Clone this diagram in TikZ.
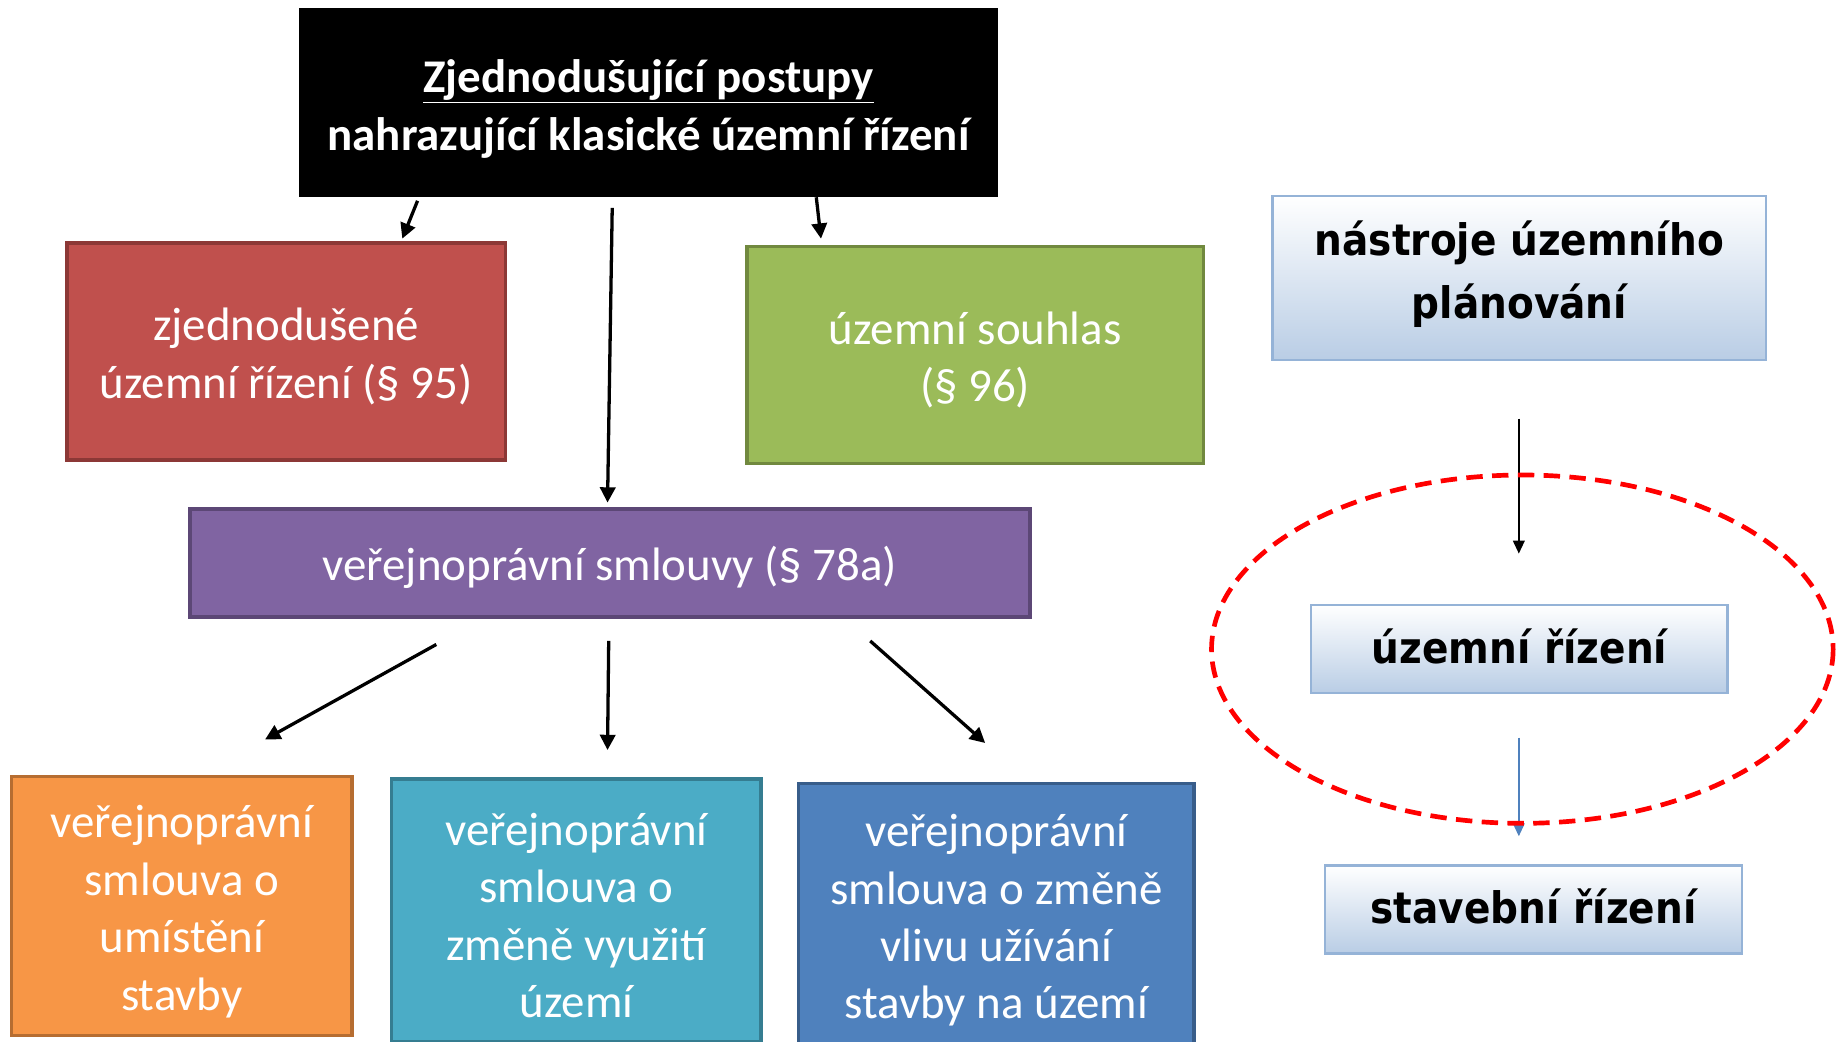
\documentclass[tikz,border=0pt]{standalone}
\usepackage{fontspec}
\setmainfont{Carlito}
\newfontfamily\rfont[FakeStretch=0.9]{DejaVu Sans}
\usepackage{tikz}
\usetikzlibrary{calc}
\usetikzlibrary{arrows.meta}
\usepackage{xcolor}
\definecolor{C0}{HTML}{C0504D}
\definecolor{C0d}{HTML}{8C3836}
\definecolor{C1}{HTML}{9BBB59}
\definecolor{C1d}{HTML}{71893F}
\definecolor{C2}{HTML}{8064A2}
\definecolor{C2d}{HTML}{5C4776}
\definecolor{C3}{HTML}{F79646}
\definecolor{C3d}{HTML}{B66D31}
\definecolor{C4}{HTML}{4BACC6}
\definecolor{C4d}{HTML}{357D91}
\definecolor{C5}{HTML}{4F81BD}
\definecolor{C5d}{HTML}{385D8A}
\definecolor{G0}{HTML}{B9CDE5}
\definecolor{G0d}{HTML}{95B3D7}
\newcommand{\boxstrut}{\rule{0pt}{37pt}}
\tikzset{cbox/.style 2 args={fill=#1,draw=#2,line width=3pt,text=white,align=center,inner sep=0pt,font=\fontsize{40}{49}\selectfont},
gbox/.style={top color=white,bottom color=G0,draw=G0d,line width=2pt,text=black,align=center,inner sep=0pt,font=\rfont\bfseries\fontsize{37}{54}\selectfont,execute at end node={\rule[-#1]{0pt}{0pt}}},
gbox/.default=6pt,
arr/.style={line width=2.8pt,-{Triangle[length=13pt,width=13pt]}},
thinarr/.style={line width=1.3pt,-{Triangle[length=11pt,width=10pt]}}}

\begin{document}
\begin{tikzpicture}[x=1pt,y=-1pt]
\useasboundingbox (0,0) rectangle (1568,888);

\node[fill=black,text=white,align=center,inner sep=0pt,minimum width=596pt,minimum height=161pt,font=\bfseries\fontsize{40}{49}\selectfont] (top) at (553,87.5)
 {\rule{0pt}{39pt}\underline{Zjednodušující postupy}\\nahrazující klasické územní řízení};

\node[cbox={C0}{C0d},minimum width=374pt,minimum height=185pt] (zj) at (244,299.5) {\boxstrut zjednodušené\\územní řízení (§ 95)};
\node[cbox={C1}{C1d},minimum width=389pt,minimum height=185pt] (souhlas) at (831.5,302.5) {\boxstrut územní souhlas\\(§ 96)};
\node[cbox={C2}{C2d},minimum width=716pt,minimum height=92pt] (smlouvy) at (520,480) {\boxstrut veřejnoprávní smlouvy (§ 78a)};

\node[cbox={C3}{C3d},minimum width=290pt,minimum height=221pt] (umisteni) at (155,772.5) {\boxstrut veřejnoprávní\\smlouva o\\umístění\\stavby};
\node[cbox={C4}{C4d},minimum width=315pt,minimum height=224pt] (vyuziti) at (491.5,776) {\boxstrut veřejnoprávní\\smlouva o\\změně využití\\území};
\node[cbox={C5}{C5d},minimum width=337pt,minimum height=224pt] (vliv) at (849.5,780) {\boxstrut veřejnoprávní\\smlouva o změně\\vlivu užívání\\stavby na území};

\node[gbox=14pt,minimum width=421pt,minimum height=140pt] (nastroje) at (1295.5,237) {nástroje územního\\plánování};
\node[gbox,minimum width=355pt,minimum height=75pt] (uzemni) at (1295.5,553.5) {územní řízení};
\node[gbox,minimum width=355pt,minimum height=75pt] (stavebni) at (1307.5,775.5) {stavební řízení};

\draw[arr] ($(top.south)+(-197,3)$) -- ($(zj.north)+(99,-2)$);
\draw[arr] ($(top.south)+(-31,9)$) -- ($(smlouvy.north)+(-2,-4)$);
\draw[arr] ($(top.south)+(143,0)$) -- ($(souhlas.north)+(-131.5,-5)$);

\draw[arr] ($(smlouvy.south)+(-148,22)$) -- ($(umisteni.north)+(71,-30)$);
\draw[arr] ($(smlouvy.south)+(-1,19)$) -- ($(vyuziti.north)+(26.5,-23)$);
\draw[arr] ($(smlouvy.south)+(222,19)$) -- ($(vliv.north)+(-9.5,-33)$);

\draw[thinarr] ($(nastroje.south)+(-0.5,49)$) -- ($(uzemni.north)+(-0.5,-43)$);
\draw[thinarr,color=C5] ($(uzemni.south)+(-0.5,37)$) -- ($(stavebni.north)+(-12.5,-24)$);

\draw[red,line width=4pt,dash pattern=on 14pt off 8pt] (1298,553.5) ellipse [x radius=265,y radius=148.5];

\end{tikzpicture}
\end{document}
